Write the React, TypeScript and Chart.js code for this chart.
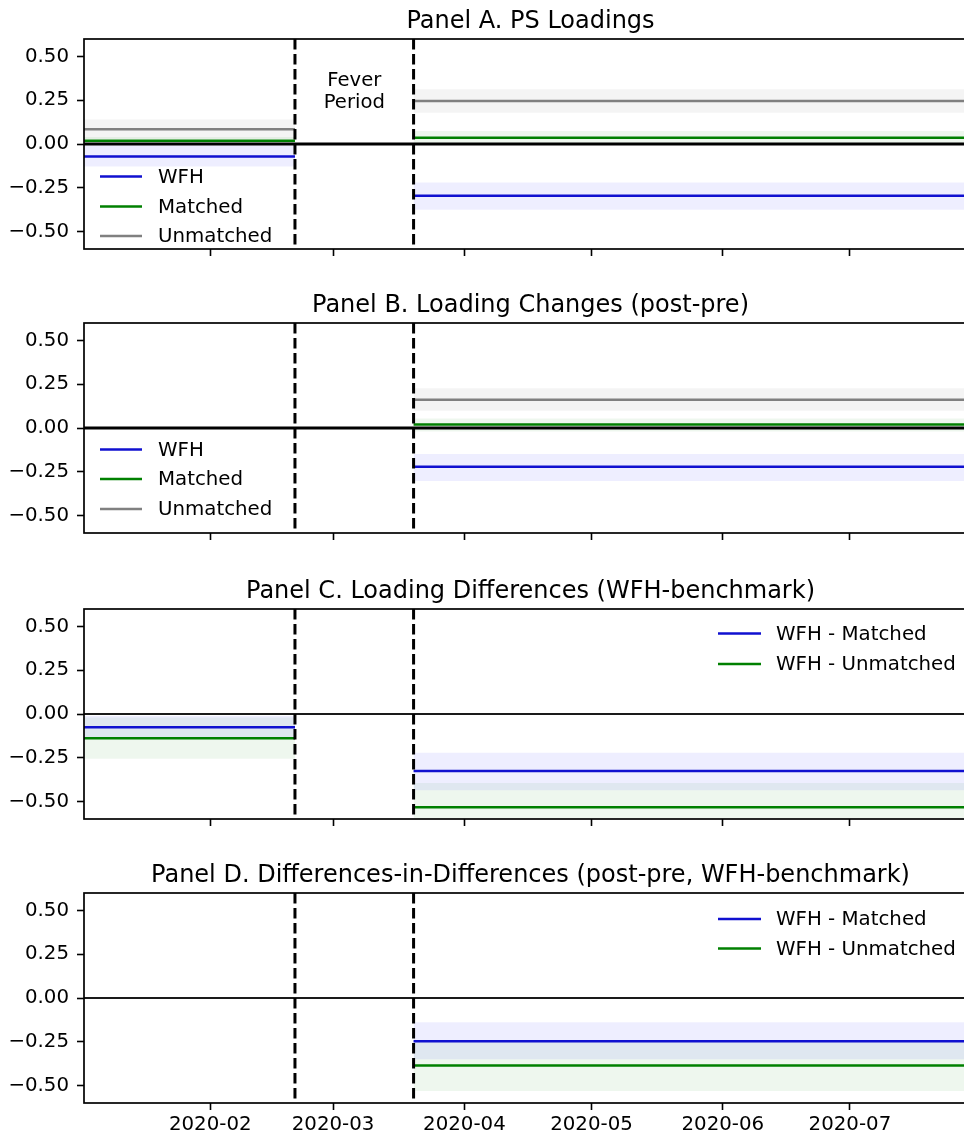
import React, { useEffect, useRef } from 'react';
import { Chart, registerables } from 'chart.js';

Chart.register(...registerables);

const FONT_FAMILY = '"DejaVu Sans", "Liberation Sans", sans-serif';

// ---------- axes (x in days since 2020-01-01) ----------
const xTickDays = [31, 60, 91, 121, 152, 182];
const xTickLabels = ['2020-02', '2020-03', '2020-04', '2020-05', '2020-06', '2020-07'];
const yTickValues = [-0.5, -0.25, 0, 0.25, 0.5];
const yRange = [-0.6, 0.6];
const xRange = [1.2, 212];

// ---------- periods ----------
const preStartDay = 1; // 2020-01-02
const preEndDay = 51; // 2020-02-21
const postStartDay = 79; // 2020-03-20
const postEndDay = 212; // 2020-07-31
const feverLabelDay = 65;
const feverLabelValue = 0.3;
const feverLabelLines = ['Fever', 'Period'];

// ---------- Panel A ----------
const panelATitle = 'Panel A. PS Loadings';
const panelALabels = ['WFH', 'Matched', 'Unmatched'];
const panelAPre = [-0.072, 0.018, 0.085];
const panelAPreLo = [-0.129, -0.004, 0.028];
const panelAPreHi = [-0.008, 0.04, 0.14];
const panelAPost = [-0.295, 0.036, 0.246];
const panelAPostLo = [-0.375, 0.006, 0.178];
const panelAPostHi = [-0.22, 0.074, 0.313];

// ---------- Panel B (pre-period changes are zero by construction) ----------
const panelBTitle = 'Panel B. Loading Changes (post-pre)';
const panelBLabels = ['WFH', 'Matched', 'Unmatched'];
const panelBPre = [null, null, null];
const panelBPreLo = [null, null, null];
const panelBPreHi = [null, null, null];
const panelBPost = [-0.222, 0.02, 0.161];
const panelBPostLo = [-0.303, -0.02, 0.098];
const panelBPostHi = [-0.148, 0.055, 0.227];

// ---------- Panel C ----------
const panelCTitle = 'Panel C. Loading Differences (WFH-benchmark)';
const panelCLabels = ['WFH - Matched', 'WFH - Unmatched'];
const panelCPre = [-0.076, -0.138];
const panelCPreLo = [-0.139, -0.256];
const panelCPreHi = [-0.011, -0.02];
const panelCPost = [-0.325, -0.533];
const panelCPostLo = [-0.436, -0.672];
const panelCPostHi = [-0.222, -0.394];

// ---------- Panel D ----------
const panelDTitle = 'Panel D. Differences-in-Differences (post-pre, WFH-benchmark)';
const panelDLabels = ['WFH - Matched', 'WFH - Unmatched'];
const panelDPre = [null, null];
const panelDPreLo = [null, null];
const panelDPreHi = [null, null];
const panelDPost = [-0.247, -0.385];
const panelDPostLo = [-0.35, -0.531];
const panelDPostHi = [-0.139, -0.24];

// ---------- styles ----------
const COLORS3 = ['#1010d0', '#008000', '#808080'];
const BANDS3 = ['rgba(0,0,255,0.065)', 'rgba(0,128,0,0.065)', 'rgba(128,128,128,0.085)'];
const COLORS2 = ['#1010d0', '#008000'];
const BANDS2 = ['rgba(0,0,255,0.065)', 'rgba(0,128,0,0.065)'];

type Panel = {
  title: string;
  labels: string[];
  pre: (number | null)[];
  preLo: (number | null)[];
  preHi: (number | null)[];
  post: number[];
  postLo: number[];
  postHi: number[];
  colors: string[];
  bands: string[];
  showXLabels: boolean;
  zeroWidth: number;
  zeroColor: string;
  legendRows: number[];
  legendX: [number, number, number];
  fever: boolean;
};

const panels: Panel[] = [
  {
    title: panelATitle, labels: panelALabels, pre: panelAPre, preLo: panelAPreLo, preHi: panelAPreHi,
    post: panelAPost, postLo: panelAPostLo, postHi: panelAPostHi, colors: COLORS3, bands: BANDS3,
    showXLabels: false, zeroWidth: 3, zeroColor: '#000', legendRows: [137.5, 167.5, 197], legendX: [16, 58, 74], fever: true,
  },
  {
    title: panelBTitle, labels: panelBLabels, pre: panelBPre, preLo: panelBPreLo, preHi: panelBPreHi,
    post: panelBPost, postLo: panelBPostLo, postHi: panelBPostHi, colors: COLORS3, bands: BANDS3,
    showXLabels: false, zeroWidth: 3, zeroColor: '#000', legendRows: [126.5, 156, 186], legendX: [16, 58, 74], fever: false,
  },
  {
    title: panelCTitle, labels: panelCLabels, pre: panelCPre, preLo: panelCPreLo, preHi: panelCPreHi,
    post: panelCPost, postLo: panelCPostLo, postHi: panelCPostHi, colors: COLORS2, bands: BANDS2,
    showXLabels: false, zeroWidth: 2, zeroColor: '#1a1a1a', legendRows: [24.5, 55], legendX: [634, 677, 692], fever: false,
  },
  {
    title: panelDTitle, labels: panelDLabels, pre: panelDPre, preLo: panelDPreLo, preHi: panelDPreHi,
    post: panelDPost, postLo: panelDPostLo, postHi: panelDPostHi, colors: COLORS2, bands: BANDS2,
    showXLabels: true, zeroWidth: 2, zeroColor: '#1a1a1a', legendRows: [26, 55.5], legendX: [634, 677, 692], fever: false,
  },
];

const panelTops = [0, 284, 570, 854];
const CANVAS_W = 1000;
const CANVAS_H = 285;
const PLOT_TOP = 39;
const PLOT_H = 210;
const PLOT_LEFT = 84;
const PLOT_RIGHT = 977;

function buildDatasets(p: Panel) {
  const bandSets: any[] = [];
  const lineSets: any[] = [];
  p.labels.forEach((label, i) => {
    const addBand = (x0: number, x1: number, lo: number, hi: number) => {
      bandSets.push({
        label: label + ' hi',
        data: [{ x: x0, y: hi }, { x: x1, y: hi }],
        borderWidth: 0,
        borderColor: 'transparent',
        pointRadius: 0,
        fill: false,
        order: 10,
      });
      bandSets.push({
        label: label + ' lo',
        data: [{ x: x0, y: lo }, { x: x1, y: lo }],
        borderWidth: 0,
        borderColor: 'transparent',
        backgroundColor: p.bands[i],
        pointRadius: 0,
        fill: '-1',
        order: 10,
      });
    };
    const pre = p.pre[i];
    const preLo = p.preLo[i];
    const preHi = p.preHi[i];
    if (pre !== null && preLo !== null && preHi !== null) addBand(preStartDay, preEndDay, preLo, preHi);
    addBand(postStartDay, postEndDay, p.postLo[i], p.postHi[i]);

    const pts: any[] = [];
    if (pre !== null) {
      pts.push({ x: preStartDay, y: pre }, { x: preEndDay, y: pre }, { x: (preEndDay + postStartDay) / 2, y: null });
    }
    pts.push({ x: postStartDay, y: p.post[i] }, { x: postEndDay, y: p.post[i] });
    lineSets.push({
      label,
      data: pts,
      borderColor: p.colors[i],
      borderWidth: 2.5,
      pointRadius: 0,
      fill: false,
      spanGaps: false,
      order: p.labels.length - i,
    });
  });
  return [...bandSets, ...lineSets];
}

function decorPlugin(p: Panel) {
  return {
    id: 'panelDecor',
    afterDatasetsDraw(chart: any) {
      const { ctx, chartArea: a, scales } = chart;
      ctx.save();
      const y0 = scales.y.getPixelForValue(0);
      ctx.beginPath();
      ctx.strokeStyle = p.zeroColor;
      ctx.lineWidth = p.zeroWidth;
      ctx.moveTo(a.left, y0);
      ctx.lineTo(a.right, y0);
      ctx.stroke();

      ctx.setLineDash([10.5, 4.5]);
      ctx.lineWidth = 3;
      ctx.strokeStyle = '#000';
      [preEndDay, postStartDay].forEach((d) => {
        const x = scales.x.getPixelForValue(d);
        ctx.beginPath();
        ctx.moveTo(x, a.top);
        ctx.lineTo(x, a.bottom);
        ctx.stroke();
      });
      ctx.setLineDash([]);
      ctx.restore();
    },
    afterDraw(chart: any) {
      const { ctx, chartArea: a, scales } = chart;
      ctx.save();
      // frame
      ctx.lineWidth = 1.7;
      ctx.strokeStyle = '#000';
      ctx.strokeRect(a.left, a.top, a.right - a.left, a.bottom - a.top);

      // title
      ctx.fillStyle = '#000';
      ctx.font = `24px ${FONT_FAMILY}`;
      ctx.textAlign = 'center';
      ctx.textBaseline = 'alphabetic';
      ctx.fillText(p.title, (a.left + a.right) / 2, a.top - 11.5);

      // legend
      ctx.font = `19.8px ${FONT_FAMILY}`;
      ctx.textAlign = 'left';
      ctx.textBaseline = 'middle';
      p.labels.forEach((label, i) => {
        const y = a.top + p.legendRows[i];
        ctx.beginPath();
        ctx.strokeStyle = p.colors[i];
        ctx.lineWidth = 2.6;
        ctx.moveTo(a.left + p.legendX[0], y);
        ctx.lineTo(a.left + p.legendX[1], y);
        ctx.stroke();
        ctx.fillStyle = '#000';
        ctx.fillText(label, a.left + p.legendX[2], y + 1);
      });

      // fever period label
      if (p.fever) {
        const fx = scales.x.getPixelForValue(feverLabelDay);
        const fy = scales.y.getPixelForValue(feverLabelValue);
        ctx.textAlign = 'center';
        ctx.font = `19.6px ${FONT_FAMILY}`;
        ctx.fillText(feverLabelLines[0], fx, fy - 11);
        ctx.fillText(feverLabelLines[1], fx, fy + 11);
      }
      ctx.restore();
    },
  };
}

function fmtY(v: number) {
  const n = Number(v);
  return (n < 0 ? '\u2212' : '') + Math.abs(n).toFixed(2);
}

function PanelChart({ panel, top }: { panel: Panel; top: number }) {
  const ref = useRef<HTMLCanvasElement | null>(null);
  useEffect(() => {
    if (!ref.current) return;
    const chart = new Chart(ref.current, {
      type: 'line',
      data: { datasets: buildDatasets(panel) },
      options: {
        animation: false,
        responsive: false,
        maintainAspectRatio: false,
        devicePixelRatio: 1,
        layout: { padding: { top: PLOT_TOP, left: 0, right: CANVAS_W - PLOT_RIGHT, bottom: 0 } },
        plugins: {
          legend: { display: false },
          title: { display: false },
          tooltip: { enabled: false },
        },
        elements: { line: { tension: 0 } },
        scales: {
          x: {
            type: 'linear',
            min: xRange[0],
            max: xRange[1],
            afterBuildTicks: (s: any) => {
              s.ticks = xTickDays.map((v) => ({ value: v }));
            },
            afterFit: (s: any) => {
              s.height = CANVAS_H - PLOT_TOP - PLOT_H;
            },
            ticks: {
              autoSkip: false,
              maxRotation: 0,
              minRotation: 0,
              padding: 3,
              color: panel.showXLabels ? '#000' : 'rgba(0,0,0,0)',
              font: { family: FONT_FAMILY, size: 19.8 },
              callback: (v: any) => {
                const idx = xTickDays.indexOf(Number(v));
                return idx >= 0 ? xTickLabels[idx] : '';
              },
            },
            grid: {
              drawOnChartArea: false,
              drawTicks: true,
              tickLength: 7,
              tickWidth: 1.6,
              tickColor: '#000',
            },
            border: { display: false },
          },
          y: {
            type: 'linear',
            min: yRange[0],
            max: yRange[1],
            afterBuildTicks: (s: any) => {
              s.ticks = yTickValues.map((v) => ({ value: v }));
            },
            afterFit: (s: any) => {
              s.width = PLOT_LEFT;
            },
            ticks: {
              padding: 8,
              color: '#000',
              font: { family: FONT_FAMILY, size: 19.8 },
              callback: (v: any) => fmtY(v),
            },
            grid: {
              drawOnChartArea: false,
              drawTicks: true,
              tickLength: 7,
              tickWidth: 1.6,
              tickColor: '#000',
            },
            border: { display: false },
          },
        },
      } as any,
      plugins: [decorPlugin(panel)],
    });
    return () => chart.destroy();
  }, [panel]);
  return (
    <canvas
      ref={ref}
      width={CANVAS_W}
      height={CANVAS_H}
      style={{ position: 'absolute', left: 0, top, width: CANVAS_W, height: CANVAS_H }}
    />
  );
}

export default function App() {
  return (
    <div
      style={{
        position: 'absolute',
        left: 0,
        top: 0,
        width: 964,
        height: 1136,
        overflow: 'hidden',
        background: '#fff',
      }}
    >
      {panels.map((p, i) => (
        <PanelChart key={i} panel={p} top={panelTops[i]} />
      ))}
    </div>
  );
}
